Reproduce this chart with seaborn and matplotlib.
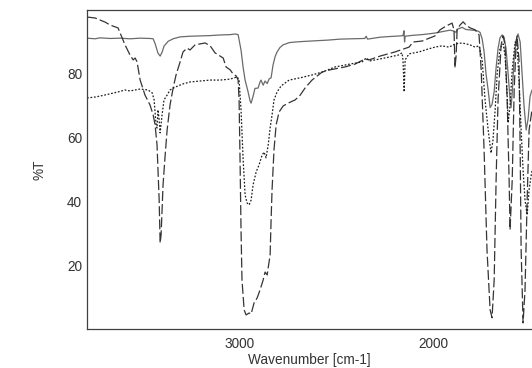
import numpy as np
import pandas as pd
import seaborn as sns
import matplotlib.pyplot as plt
from matplotlib.ticker import FixedLocator

sns.set_style("white")
plt.rcParams['font.family'] = ['Liberation Sans', 'DejaVu Sans']

# spectra: wavenumber (cm-1) and %T
solid_wn = [3784, 3742, 3717, 3665, 3613, 3562, 3510, 3459, 3443, 3433, 3418, 3407, 3397, 3387,
            3366, 3340, 3304, 3253, 3201, 3149, 3098, 3046, 3021, 3005, 2990, 2979, 2969, 2954,
            2943, 2938, 2928, 2918, 2902, 2892, 2887, 2876, 2866, 2855, 2845, 2835, 2825, 2814,
            2804, 2789, 2773, 2742, 2711, 2660, 2600, 2540, 2479, 2420, 2352, 2345, 2338, 2273,
            2226, 2170, 2155, 2150, 2147, 2144, 2103, 2057, 2015, 1990, 1964, 1930, 1912, 1892,
            1881, 1876, 1861, 1850, 1840, 1830, 1814, 1799, 1783, 1768, 1758, 1747, 1737, 1727,
            1716, 1706, 1696, 1685, 1675, 1665, 1655, 1644, 1634, 1624, 1613, 1603, 1598, 1592,
            1582, 1572, 1562, 1551, 1541, 1531, 1520, 1510, 1500, 1490]
solid_t = [91.2, 91.0, 91.3, 91.1, 91.2, 91.0, 91.2, 91.1, 91.0, 89.5, 86.5, 85.6, 86.8, 88.7,
           90.2, 91.0, 91.6, 91.8, 91.9, 92.0, 92.2, 92.3, 92.5, 92.3, 87.5, 82.0, 78.1, 74.5,
           71.5, 70.9, 73.0, 75.5, 75.6, 77.5, 78.1, 76.5, 77.8, 77.0, 78.5, 78.8, 82.8, 85.5,
           86.9, 88.3, 89.1, 89.8, 90.0, 90.2, 90.4, 90.6, 90.9, 91.0, 91.1, 91.8, 90.9, 91.5,
           91.7, 91.9, 92.0, 93.5, 90.0, 91.8, 92.1, 92.3, 92.6, 92.8, 93.1, 93.5, 93.7, 93.4,
           93.0, 94.0, 94.3, 94.6, 94.2, 93.9, 93.8, 93.7, 93.6, 93.4, 93.0, 91.0, 87.0, 80.0,
           75.0, 69.5, 70.5, 74.5, 82.0, 88.0, 91.3, 92.2, 91.5, 88.0, 80.0, 72.0, 69.5, 74.0,
           85.0, 90.6, 92.5, 90.0, 80.0, 70.0, 62.5, 66.0, 73.0, 75.0]

dashed_wn = [3784, 3742, 3690, 3665, 3624, 3588, 3562, 3546, 3536, 3526, 3510, 3485, 3459, 3443,
             3433, 3423, 3412, 3407, 3402, 3397, 3392, 3381, 3371, 3356, 3340, 3325, 3304, 3289,
             3268, 3253, 3227, 3201, 3175, 3149, 3124, 3098, 3082, 3067, 3046, 3031, 3015, 3005,
             3000, 2995, 2990, 2985, 2974, 2964, 2948, 2938, 2923, 2907, 2892, 2876, 2866, 2855,
             2850, 2840, 2835, 2830, 2820, 2809, 2794, 2773, 2747, 2711, 2685, 2660, 2624, 2572,
             2531, 2454, 2402, 2351, 2330, 2273, 2196, 2124, 2103, 2057, 2015, 1990, 1964, 1933,
             1912, 1902, 1892, 1887, 1881, 1876, 1861, 1845, 1830, 1809, 1783, 1763, 1752, 1737,
             1722, 1706, 1696, 1685, 1675, 1665, 1649, 1639, 1629, 1618, 1608, 1603, 1592, 1582,
             1572, 1567, 1557, 1551, 1546, 1536, 1526, 1515, 1505, 1490]
dashed_t = [97.8, 97.5, 96.2, 95.3, 94.4, 89.1, 85.9, 84.4, 85.0, 83.8, 78.1, 73.4, 70.3, 67.2,
            64.1, 57.8, 40.6, 27.2, 29.7, 37.5, 45.3, 54.7, 62.5, 70.3, 75.6, 79.7, 83.8, 86.9,
            88.1, 87.5, 89.1, 89.4, 89.7, 88.8, 86.6, 85.6, 85.0, 82.2, 81.3, 80.0, 79.4, 78.1,
            71.9, 53.1, 31.3, 15.6, 6.3, 4.7, 5.3, 5.0, 8.4, 10.0, 12.5, 15.6, 18.1, 17.2,
            19.4, 23.4, 34.4, 43.8, 56.3, 64.1, 68.1, 70.0, 70.9, 71.9, 73.4, 75.6, 78.1, 80.6,
            81.3, 82.2, 83.1, 84.7, 84.4, 85.6, 86.9, 88.4, 90.0, 90.3, 91.3, 91.9, 93.8, 95.0,
            95.6, 95.9, 93.8, 81.9, 85.9, 93.8, 95.3, 96.3, 95.3, 94.4, 93.8, 92.2, 81.3, 56.3,
            25.0, 6.3, 3.8, 15.6, 46.9, 71.9, 89.1, 91.9, 89.1, 71.9, 46.9, 31.3, 46.9, 75.0,
            89.1, 91.9, 84.4, 56.3, 25.0, 2.2, 12.5, 40.6, 62.5, 68.8]

dotted_wn = [3784, 3742, 3717, 3665, 3624, 3588, 3562, 3510, 3469, 3448, 3438, 3428, 3423, 3418,
             3412, 3407, 3397, 3387, 3371, 3356, 3330, 3289, 3253, 3201, 3149, 3098, 3046, 3010,
             3000, 2990, 2979, 2969, 2959, 2948, 2938, 2928, 2912, 2897, 2881, 2871, 2861, 2850,
             2840, 2830, 2820, 2804, 2783, 2742, 2685, 2624, 2572, 2505, 2428, 2366, 2345, 2325,
             2273, 2226, 2180, 2160, 2155, 2149, 2144, 2124, 2072, 2026, 1990, 1954, 1917, 1887,
             1850, 1809, 1783, 1763, 1747, 1732, 1716, 1701, 1691, 1680, 1670, 1655, 1639, 1629,
             1618, 1613, 1603, 1592, 1577, 1567, 1557, 1546, 1536, 1526, 1515, 1505, 1490]
dotted_t = [72.5, 72.8, 73.1, 73.8, 74.4, 75.0, 74.7, 75.3, 75.0, 74.1, 71.9, 64.1, 63.1, 68.8,
            65.6, 61.6, 67.2, 71.9, 73.4, 75.0, 75.9, 76.9, 77.5, 77.8, 78.1, 78.1, 78.4, 79.1,
            78.1, 68.8, 53.1, 42.2, 39.7, 39.1, 40.6, 45.3, 49.4, 51.6, 54.7, 55.6, 53.8, 57.8,
            63.1, 67.2, 71.9, 74.4, 76.3, 78.1, 78.8, 79.7, 80.6, 82.2, 83.1, 83.8, 85.0, 84.1,
            84.7, 85.3, 85.9, 86.6, 84.4, 74.4, 84.4, 86.3, 86.9, 87.8, 88.4, 88.8, 88.4, 89.4,
            89.7, 89.1, 88.4, 88.8, 84.4, 71.9, 62.5, 55.3, 59.4, 68.8, 79.7, 88.1, 89.4, 85.9,
            73.4, 64.7, 70.3, 81.3, 90.0, 89.1, 78.1, 62.5, 50.0, 40.6, 35.9, 43.8, 50.0]

df = pd.concat([
    pd.DataFrame({'wn': solid_wn, 'T': solid_t, 'sample': 'a'}),
    pd.DataFrame({'wn': dashed_wn, 'T': dashed_t, 'sample': 'b'}),
    pd.DataFrame({'wn': dotted_wn, 'T': dotted_t, 'sample': 'c'}),
], ignore_index=True)

fig = plt.figure(figsize=(5.32, 3.68), dpi=100)
ax = fig.add_axes([87/532, 39/368, 445/532, 319/368])

sns.lineplot(data=df, x='wn', y='T', hue='sample', style='sample',
             palette={'a': '#6a6a6a', 'b': '#353535', 'c': '#1c1c1c'},
             dashes={'a': '', 'b': (8, 2.5), 'c': (1.4, 1.4)},
             sort=False, estimator=None, linewidth=0.9, legend=False, ax=ax)

ax.set_xlim(3784, 1490)
ax.set_ylim(0.3, 100)

ax.xaxis.set_major_locator(FixedLocator([3000, 2000]))
ax.xaxis.set_minor_locator(FixedLocator([3500, 2500]))
ax.yaxis.set_major_locator(FixedLocator([20, 40, 60, 80]))
ax.yaxis.set_minor_locator(FixedLocator([10, 30, 50, 70, 90]))

ax.tick_params(which='both', direction='in', colors='#404040', labelcolor='#333333',
               labelsize=9.8, width=0.9)
ax.tick_params(which='major', length=7)
ax.tick_params(which='minor', length=3.5)
ax.tick_params(axis='x', which='major', pad=6)
ax.tick_params(axis='y', which='major', pad=3.5)

for side in ['left', 'bottom', 'top']:
    ax.spines[side].set_color('#404040')
    ax.spines[side].set_linewidth(0.9)
ax.spines['right'].set_visible(False)

ax.set_xlabel('Wavenumber [cm-1]', fontsize=9.8, color='#333333')
ax.set_ylabel('%T', fontsize=9.8, color='#333333')
ax.xaxis.set_label_coords(0.5, -0.074)
ax.yaxis.set_label_coords(-0.092, 0.5)

fig.savefig('out.png', dpi=100)
